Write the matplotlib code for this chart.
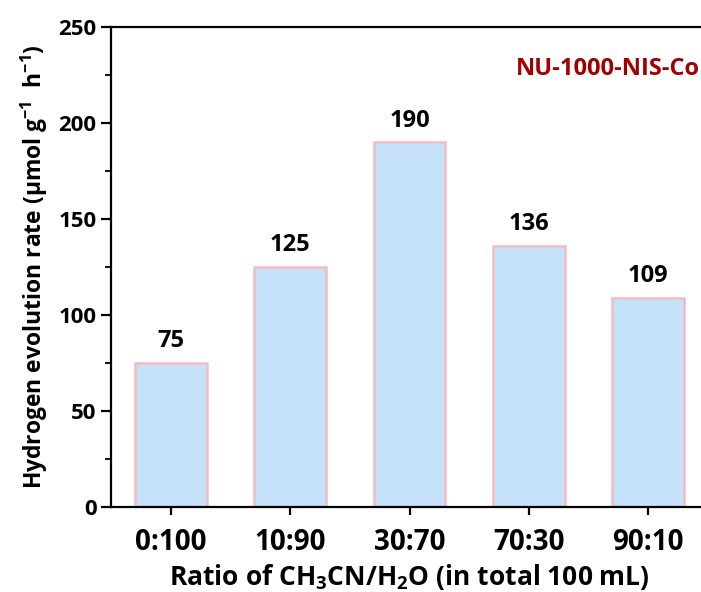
import numpy as np
import matplotlib
matplotlib.use("Agg")
import matplotlib.pyplot as plt
from matplotlib.ticker import MultipleLocator

# data
ratios = ["0:100", "10:90", "30:70", "70:30", "90:10"]
rates = [75, 125, 190, 136, 109]

plt.rcParams['font.family'] = ['Open Sans', 'DejaVu Sans']
plt.rcParams['font.weight'] = 'bold'
plt.rcParams['mathtext.fontset'] = 'custom'
plt.rcParams['mathtext.rm'] = 'Open Sans:bold'
plt.rcParams['mathtext.it'] = 'Open Sans:bold'
plt.rcParams['mathtext.bf'] = 'Open Sans:bold'

fig = plt.figure(figsize=(7.01, 5.92), dpi=100)
ax = fig.add_axes([111/701, 85/592, 597/701, 480/592])

x = np.arange(len(ratios))
ax.bar(x, rates, width=0.6, color='#C6E2FB', edgecolor='#F4BCC2', linewidth=1.8, zorder=2)

for xi, v in zip(x, rates):
    ax.text(xi, v + 5, str(v), ha='center', va='bottom', fontsize=17, fontweight='bold')

ax.set_xlim(-0.5, 4.5)
ax.set_ylim(0, 250)
ax.set_xticks(x)
ax.set_xticklabels(ratios)
ax.yaxis.set_major_locator(MultipleLocator(50))
ax.yaxis.set_minor_locator(MultipleLocator(25))

for s in ['left', 'bottom', 'top']:
    ax.spines[s].set_linewidth(1.6)
ax.spines['right'].set_visible(False)

ax.tick_params(axis='y', which='major', direction='out', length=7, width=1.6, labelsize=16)
ax.tick_params(axis='y', which='minor', direction='out', length=4, width=1.3)
ax.tick_params(axis='x', which='major', direction='out', length=6, width=1.6, labelsize=20, pad=9)

ax.set_ylabel("Hydrogen evolution rate (μmol g$^{-1}$  h$^{-1}$)", fontsize=16.5, fontweight='bold', labelpad=6)
ax.set_xlabel("Ratio of CH$_3$CN/H$_2$O (in total 100 mL)", fontsize=19, fontweight='bold', labelpad=4)

ax.text(0.987, 0.9125, "NU-1000-NIS-Co", transform=ax.transAxes, ha='right', va='center',
        color='#A00000', fontsize=17, fontweight='bold')

fig.savefig("out.png", dpi=100)
